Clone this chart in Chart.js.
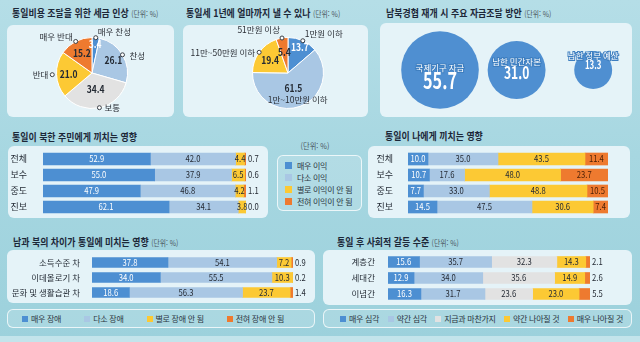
<!DOCTYPE html>
<html lang="ko">
<head>
<meta charset="utf-8">
<title>통일 의식 조사</title>
<script src="https://cdn.jsdelivr.net/npm/chart.js@4.4.1/dist/chart.umd.min.js"></script>
<style>
  html, body { margin: 0; padding: 0; }
  body {
    width: 640px; height: 342px; overflow: hidden; position: relative;
    background: linear-gradient(180deg, #b5dee7 0%, #a7d7e1 45%, #9cd1dc 100%);
    font-family: 'Noto Sans CJK KR', 'Noto Sans', sans-serif; color: #1c2738;
  }
  .panel { position: absolute; background: #e5f3f8; border-radius: 6px; }
  .title {
    position: absolute; font-size: 10.5px; font-weight: 700; line-height: 14px;
    white-space: nowrap; transform: scaleX(0.85); transform-origin: left center;
  }
  .unit { font-size: 8px; font-weight: 400; color: #4a5560; }
  .unit-free { position: absolute; font-size: 8px; color: #4a5560; line-height: 12px; transform: translateX(-50%) scaleX(0.9); }
  canvas { position: absolute; }
  .legend {
    position: absolute; box-sizing: border-box; border: 1px solid rgba(255,255,255,0.75);
    border-radius: 6px; background: rgba(255,255,255,0.14);
    font-size: 8px; letter-spacing: -0.3px; color: #2a3440; white-space: nowrap;
  }
  .legend.row { display: flex; align-items: center; }
  .legend .item { display: flex; align-items: center; }
  .legend i { display: inline-block; width: 6px; height: 6px; margin-right: 3px; }
  .legend.col { padding: 3px 0 0 7px; }
  .legend.col .item { height: 12px; }
  .legend.col i { width: 7px; height: 7px; margin-right: 5px; }
  .band { position: absolute; left: 0; top: 336px; width: 640px; height: 6px; background: #c3e4eb; }
</style>
</head>
<body>

<div class="title" style="left:12px;top:6px">통일비용 조달을 위한 세금 인상 <span class="unit">(단위: %)</span></div>
<div class="title" style="left:186px;top:6px">통일세 1년에 얼마까지 낼 수 있나 <span class="unit">(단위: %)</span></div>
<div class="title" style="left:386px;top:6px">남북경협 재개 시 주요 자금조달 방안 <span class="unit">(단위: %)</span></div>

<div class="panel" style="left:7px;top:25px;width:167px;height:92px"></div>
<div class="panel" style="left:183px;top:25px;width:185px;height:92px"></div>
<div class="panel" style="left:380px;top:23px;width:252px;height:94px"></div>
<canvas id="taxPie" width="166" height="92" style="left:8px;top:25px"></canvas>
<canvas id="payPie" width="185" height="92" style="left:183px;top:25px"></canvas>
<canvas id="fundBubble" width="252" height="94" style="left:380px;top:23px"></canvas>

<div class="title" style="left:12px;top:130px">통일이 북한 주민에게 끼치는 영향</div>
<div class="title" style="left:385px;top:129px">통일이 나에게 끼치는 영향</div>
<div class="unit-free" style="left:315px;top:140px">(단위: %)</div>

<div class="panel" style="left:8px;top:146px;width:260px;height:72px"></div>
<div class="panel" style="left:368px;top:146px;width:262px;height:72px"></div>
<canvas id="northBar" width="260" height="72" style="left:8px;top:146px"></canvas>
<canvas id="meBar" width="262" height="72" style="left:368px;top:146px"></canvas>
<div id="benefitLegend" class="legend col" style="left:277px;top:155px;width:85px;height:56px"></div>

<div class="title" style="left:13px;top:235px">남과 북의 차이가 통일에 미치는 영향 <span class="unit">(단위: %)</span></div>
<div class="title" style="left:337px;top:235px">통일 후 사회적 갈등 수준 <span class="unit">(단위: %)</span></div>

<div class="panel" style="left:7px;top:250px;width:308px;height:53px"></div>
<div class="panel" style="left:323px;top:250px;width:309px;height:55px"></div>
<canvas id="gapBar" width="308" height="53" style="left:7px;top:250px"></canvas>
<canvas id="conflictBar" width="309" height="55" style="left:323px;top:250px"></canvas>
<div id="gapLegend" class="legend row" style="left:7px;top:309px;width:308px;height:19px;justify-content:space-between;padding:0 30px 0 14px"></div>
<div id="conflictLegend" class="legend row" style="left:323px;top:309px;width:309px;height:19px;justify-content:space-between;padding:0 8px 0 16px"></div>
<div class="band"></div>

<script>
// 통일비용 조달을 위한 세금 인상
const taxLabels = ['매우 찬성', '찬성', '보통', '반대', '매우 반대'];
const taxValues = [3.4, 26.1, 34.4, 21.0, 15.2];

// 통일세 1년에 얼마까지 낼 수 있나
const payLabels = ['1만원 이하', '1만~10만원 이하', '11만~50만원 이하', '51만원 이상'];
const payValues = [13.7, 61.5, 19.4, 5.4];

// 남북경협 재개 시 주요 자금조달 방안
const fundLabels = ['국제기구 자금', '남한 민간자본', '남한 정부 예산'];
const fundValues = [55.7, 31.0, 13.3];

// 통일이 북한 주민에게 / 나에게 끼치는 영향
const groups = ['전체', '보수', '중도', '진보'];
const benefitLabels = ['매우 이익', '다소 이익', '별로 이익이 안 됨', '전혀 이익이 안 됨'];
const northVery = [52.9, 55.0, 47.9, 62.1];
const northSome = [42.0, 37.9, 46.8, 34.1];
const northLittle = [4.4, 6.5, 4.2, 3.8];
const northNone = [0.7, 0.6, 1.1, 0.0];
const meVery = [10.0, 10.7, 7.7, 14.5];
const meSome = [35.0, 17.6, 33.0, 47.5];
const meLittle = [43.5, 48.0, 48.8, 30.6];
const meNone = [11.4, 23.7, 10.5, 7.4];

// 남과 북의 차이가 통일에 미치는 영향
const gapItems = ['소득수준 차', '이데올로기 차', '문화 및 생활습관 차'];
const gapLabels = ['매우 장애', '다소 장애', '별로 장애 안 됨', '전혀 장애 안 됨'];
const gapVery = [37.8, 34.0, 18.6];
const gapSome = [54.1, 55.5, 56.3];
const gapLittle = [7.2, 10.3, 23.7];
const gapNone = [0.9, 0.2, 1.4];

// 통일 후 사회적 갈등 수준
const conflictItems = ['계층간', '세대간', '이념간'];
const conflictLabels = ['매우 심각', '약간 심각', '지금과 마찬가지', '약간 나아질 것', '매우 나아질 것'];
const conflictVery = [15.6, 12.9, 16.3];
const conflictSome = [35.7, 34.0, 31.7];
const conflictSame = [32.3, 35.6, 23.6];
const conflictBetter = [14.3, 14.9, 23.0];
const conflictMuchBetter = [2.1, 2.6, 5.5];

const BLUE = '#4d8fd2', LIGHT = '#a9c7e4', GRAY = '#e2e2e2', YELLOW = '#fcc934', ORANGE = '#ee7a2f';
const FONT = '"Noto Sans CJK KR", "Noto Sans", sans-serif';
const DARK = '#242a33';

// 가로로 좁힌 글자 (원본 인쇄물의 장체 숫자 느낌)
function narrowText(ctx, text, x, y, sx) {
  ctx.save();
  ctx.translate(x, y);
  ctx.scale(sx, 1);
  ctx.fillText(text, 0, 0);
  ctx.restore();
}

// 파이 조각 안쪽 수치 + 바깥쪽 항목명(핀)
const pieLabels = {
  id: 'pieLabels',
  afterDatasetsDraw(chart, args, opts) {
    const ctx = chart.ctx;
    const values = chart.data.datasets[0].data;
    ctx.save();
    ctx.textBaseline = 'middle';
    chart.getDatasetMeta(0).data.forEach((arc, i) => {
      const p = arc.getProps(['x', 'y', 'startAngle', 'endAngle', 'outerRadius'], true);
      const mid = (p.startAngle + p.endAngle) / 2;
      const cos = Math.cos(mid), sin = Math.sin(mid);

      const rv = p.outerRadius * opts.valueRadius[i];
      ctx.font = 'bold 10px ' + FONT;
      ctx.textAlign = 'center';
      ctx.fillStyle = opts.valueColors[i];
      narrowText(ctx, values[i].toFixed(1), p.x + cos * rv, p.y + sin * rv, 0.85);

      const n = opts.names[i];
      const rn = p.outerRadius * n.r;
      const px = p.x + cos * rn, py = p.y + sin * rn;
      if (n.pin) {
        ctx.beginPath();
        ctx.arc(px, py, 2, 0, Math.PI * 2);
        ctx.fillStyle = '#fff';
        ctx.fill();
        ctx.lineWidth = 1;
        ctx.strokeStyle = '#3a3f46';
        ctx.stroke();
      }
      ctx.font = '8.5px ' + FONT;
      ctx.fillStyle = '#2b2f36';
      ctx.textAlign = n.align;
      ctx.fillText(chart.data.labels[i], px + n.dx, py + n.dy);
    });
    ctx.restore();
  }
};

// 막대 구간별 수치
const barValues = {
  id: 'barValues',
  afterDatasetsDraw(chart, args, opts) {
    const ctx = chart.ctx;
    const last = chart.data.datasets.length - 1;
    ctx.save();
    ctx.font = '9px ' + FONT;
    ctx.textBaseline = 'middle';
    chart.data.datasets.forEach((ds, i) => {
      chart.getDatasetMeta(i).data.forEach((bar, j) => {
        const text = ds.data[j].toFixed(1);
        if (i === last && opts.lastOutside) {
          ctx.textAlign = 'left';
          ctx.fillStyle = DARK;
          narrowText(ctx, text, bar.x + 2, bar.y, 0.85);
        } else {
          ctx.textAlign = 'center';
          ctx.fillStyle = opts.colors[i];
          narrowText(ctx, text, (bar.x + bar.base) / 2, bar.y, 0.85);
        }
      });
    });
    ctx.restore();
  }
};

// 원 안의 항목명과 수치
const bubbleText = {
  id: 'bubbleText',
  afterDatasetsDraw(chart) {
    const ctx = chart.ctx;
    ctx.save();
    ctx.textAlign = 'center';
    ctx.textBaseline = 'middle';
    chart.getDatasetMeta(0).data.forEach((pt, i) => {
      const r = pt.options.radius;
      const nameY = pt.y - 12 + (r - 22) * 0.6;
      ctx.font = '8.5px ' + FONT;
      ctx.lineWidth = 2;
      ctx.strokeStyle = '#3f7fc0';
      ctx.strokeText(chart.data.labels[i], pt.x, nameY);
      ctx.fillStyle = '#ffffff';
      ctx.fillText(chart.data.labels[i], pt.x, nameY);
      ctx.font = '600 ' + (r * 0.58).toFixed(1) + 'px ' + FONT;
      narrowText(ctx, fundValues[i].toFixed(1), pt.x, nameY + 5 + r * 0.2, 0.72);
    });
    ctx.restore();
  }
};

function pie(id, labels, values, colors, padding, labelOpts) {
  return new Chart(document.getElementById(id), {
    type: 'pie',
    data: {
      labels: labels,
      datasets: [{ data: values, backgroundColor: colors, borderColor: '#ffffff', borderWidth: 1 }]
    },
    options: {
      responsive: false,
      animation: false,
      layout: { padding: padding },
      plugins: { legend: { display: false }, tooltip: { enabled: false }, pieLabels: labelOpts }
    },
    plugins: [pieLabels]
  });
}

pie('taxPie', taxLabels, taxValues, [BLUE, LIGHT, GRAY, YELLOW, ORANGE],
  { left: 48, right: 46, top: 12, bottom: 8 },
  {
    valueRadius: [0.82, 0.7, 0.48, 0.66, 0.62],
    valueColors: ['#ffffff', DARK, DARK, DARK, DARK],
    names: [
      { pin: true, r: 1.0, dx: 2, dy: -6, align: 'left' },
      { pin: true, r: 1.0, dx: 7, dy: 1, align: 'left' },
      { pin: true, r: 1.0, dx: 5, dy: 0, align: 'left' },
      { pin: true, r: 1.12, dx: -4, dy: 0, align: 'right' },
      { pin: true, r: 1.0, dx: -3, dy: -5, align: 'right' }
    ]
  });

pie('payPie', payLabels, payValues, [BLUE, LIGHT, YELLOW, ORANGE],
  { left: 69, right: 44, top: 12, bottom: 8 },
  {
    valueRadius: [0.8, 0.45, 0.62, 0.6],
    valueColors: ['#ffffff', DARK, DARK, DARK],
    names: [
      { pin: true, r: 1.0, dx: 2, dy: -7, align: 'left' },
      { pin: false, r: 0.8, dx: 0, dy: 0, align: 'center' },
      { pin: true, r: 1.0, dx: -4, dy: 0, align: 'right' },
      { pin: true, r: 1.0, dx: -2, dy: -8, align: 'right' }
    ]
  });

new Chart(document.getElementById('fundBubble'), {
  type: 'bubble',
  data: {
    labels: fundLabels,
    datasets: [{
      data: fundValues.map((v, i) => ({ x: i, y: 0, r: Math.sqrt(v) * 5.2 })),
      backgroundColor: '#4f8fd1',
      borderWidth: 0,
      clip: false
    }]
  },
  options: {
    responsive: false,
    animation: false,
    layout: { padding: { left: 60, right: 38, top: 30, bottom: 22 } },
    plugins: { legend: { display: false }, tooltip: { enabled: false } },
    scales: {
      x: { display: false, min: 0, max: 2 },
      y: { display: false, min: -1, max: 1 }
    }
  },
  plugins: [bubbleText]
});

function stacked(id, cats, series, names, colors, o) {
  return new Chart(document.getElementById(id), {
    type: 'bar',
    data: {
      labels: cats,
      datasets: series.map((d, i) => ({
        label: names[i], data: d, backgroundColor: colors[i], borderWidth: 0, barThickness: o.thickness
      }))
    },
    options: {
      indexAxis: 'y',
      responsive: false,
      animation: false,
      layout: { padding: o.padding },
      plugins: {
        legend: { display: false },
        tooltip: { enabled: false },
        barValues: { lastOutside: o.lastOutside, colors: o.textColors }
      },
      scales: {
        x: { stacked: true, display: false, min: 0, max: 100 },
        y: {
          stacked: true,
          grid: { display: false },
          border: { display: false },
          ticks: { color: '#1f2630', font: { family: FONT, size: o.tickSize }, padding: o.tickPad, crossAlign: o.crossAlign },
          // 축 폭은 고정, 라벨 여백이 막대 영역을 줄이지 않게
          afterFit: s => { s.width = o.axisWidth; s.paddingTop = 0; s.paddingBottom = 0; }
        }
      }
    },
    plugins: [barValues]
  });
}

const fourColors = [BLUE, LIGHT, YELLOW, ORANGE];

stacked('northBar', groups, [northVery, northSome, northLittle, northNone], benefitLabels, fourColors, {
  thickness: 12, padding: { left: 0, right: 22, top: 5, bottom: 3 },
  axisWidth: 35, tickPad: 8, crossAlign: 'center', tickSize: 9,
  lastOutside: true, textColors: ['#ffffff', DARK, DARK, DARK]
});

stacked('meBar', groups, [meVery, meSome, meLittle, meNone], benefitLabels, fourColors, {
  thickness: 12, padding: { left: 0, right: 22, top: 5, bottom: 3 },
  axisWidth: 40, tickPad: 7, crossAlign: 'center', tickSize: 9,
  lastOutside: false, textColors: ['#ffffff', DARK, DARK, '#4a1f05']
});

stacked('gapBar', gapItems, [gapVery, gapSome, gapLittle, gapNone], gapLabels, fourColors, {
  thickness: 10, padding: { left: 0, right: 22, top: 5, bottom: 3 },
  axisWidth: 85, tickPad: 4, crossAlign: 'near', tickSize: 8.5,
  lastOutside: true, textColors: ['#ffffff', DARK, DARK, DARK]
});

stacked('conflictBar', conflictItems,
  [conflictVery, conflictSome, conflictSame, conflictBetter, conflictMuchBetter], conflictLabels,
  [BLUE, LIGHT, GRAY, YELLOW, ORANGE], {
  thickness: 11, padding: { left: 0, right: 42, top: 4, bottom: 3 },
  axisWidth: 65, tickPad: 5, crossAlign: 'near', tickSize: 8.5,
  lastOutside: true, textColors: ['#ffffff', DARK, DARK, DARK, DARK]
});

// 범례
function fillLegend(id, names, colors) {
  const box = document.getElementById(id);
  names.forEach((name, i) => {
    const item = document.createElement('span');
    item.className = 'item';
    const sw = document.createElement('i');
    sw.style.background = colors[i];
    item.append(sw, name);
    box.append(item);
  });
}
fillLegend('benefitLegend', benefitLabels, fourColors);
fillLegend('gapLegend', gapLabels, fourColors);
fillLegend('conflictLegend', conflictLabels, [BLUE, LIGHT, GRAY, YELLOW, ORANGE]);
</script>
</body>
</html>
